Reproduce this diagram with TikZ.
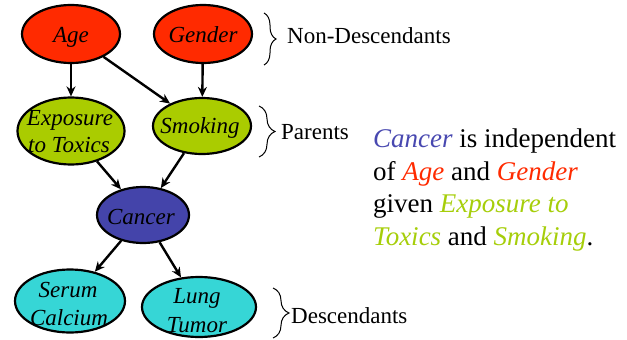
\documentclass[tikz,border=0pt]{standalone}
\usepackage{fontspec}
\setmainfont{Liberation Serif}
\usetikzlibrary{arrows.meta,decorations.pathreplacing,shapes.geometric}
\definecolor{nonred}{RGB}{255,42,0}
\definecolor{pargreen}{RGB}{170,204,0}
\definecolor{cancblue}{RGB}{68,68,170}
\definecolor{desccyan}{RGB}{54,214,214}
\definecolor{txtgreen}{RGB}{166,206,10}
\definecolor{txtblue}{RGB}{72,72,176}
\begin{document}
\begin{tikzpicture}[x=1pt,y=-1pt,
  var/.style={ellipse,draw=black,line width=2.2pt,inner sep=0pt},
  vtext/.style={anchor=base,inner sep=0pt,font=\fontsize{23}{27}\selectfont\itshape},
  link/.style={line width=2.4pt,-{Stealth[length=10pt,width=9pt]}},
  grp/.style={decorate,decoration={brace,amplitude=#1},line width=1pt},
  glabel/.style={anchor=base west,inner sep=0pt,font=\fontsize{23}{27}\selectfont},
  note/.style={anchor=base west,inner sep=0pt,font=\fontsize{27}{33}\selectfont}]

\useasboundingbox (0,0) rectangle (627,340);

% variables of the network
\node[var,fill=nonred,minimum width=98pt,minimum height=58pt] (age) at (71,34) {};
\node[var,fill=nonred,minimum width=98pt,minimum height=58pt] (gender) at (203,34) {};
\node[var,fill=pargreen,minimum width=107pt,minimum height=67pt] (expo) at (71,131) {};
\node[var,fill=pargreen,minimum width=98pt,minimum height=56pt] (smoke) at (202,126) {};
\node[var,fill=cancblue,minimum width=92pt,minimum height=56pt] (cancer) at (143,215) {};
\node[var,fill=desccyan,minimum width=110pt,minimum height=63pt] (serum) at (70,301) {};
\node[var,fill=desccyan,minimum width=114pt,minimum height=60pt] (lung) at (199,307) {};

% their names
\node[vtext] (tage) at (71,42) {Age};
\node[vtext] (tgender) at (203,42) {Gender};
\node[vtext] (texpo1) at (70,125) {Exposure};
\node[vtext] (texpo2) at (69,152) {to Toxics};
\node[vtext] (tsmoke) at (200,133) {Smoking};
\node[vtext] (tcancer) at (141,224) {Cancer};
\node[vtext] (tserum1) at (68,297) {Serum};
\node[vtext] (tserum2) at (69,325) {Calcium};
\node[vtext] (tlung1) at (197,303) {Lung};
\node[vtext] (tlung2) at (197,332) {Tumor};

% dependencies
\draw[link] (age) -- (expo);
\draw[link] (age) -- (smoke);
\draw[link] (gender) -- (smoke);
\draw[link] (expo) -- (cancer);
\draw[link] (smoke) -- (cancer);
\draw[link] (cancer) -- (serum);
\draw[link] (cancer) -- (lung);

% groups
\coordinate (b1t) at (264,13);
\coordinate (b1b) at (264,65);
\draw[grp=12pt] (b1t) -- (b1b);
\node[glabel] (lnon) at (287,43) {Non-Descendants};

\coordinate (b2t) at (259,106);
\coordinate (b2b) at (259,157);
\draw[grp=16pt] (b2t) -- (b2b);
\node[glabel] (lpar) at (281,139) {Parents};

\coordinate (b3t) at (273,288);
\coordinate (b3b) at (273,338);
\draw[grp=16pt] (b3t) -- (b3b);
\node[glabel] (ldesc) at (291,323) {Descendants};

% statement
\node[note] (n1) at (373,147) {\textcolor{txtblue}{\itshape Cancer} is independent};
\node[note] (n2) at (373,180) {of \textcolor{nonred}{\itshape Age} and \textcolor{nonred}{\itshape Gender}};
\node[note] (n3) at (373,212) {given \textcolor{txtgreen}{\itshape Exposure to}};
\node[note] (n4) at (373,245) {\textcolor{txtgreen}{\itshape Toxics} and \textcolor{txtgreen}{\itshape Smoking}.};
\end{tikzpicture}
\end{document}
